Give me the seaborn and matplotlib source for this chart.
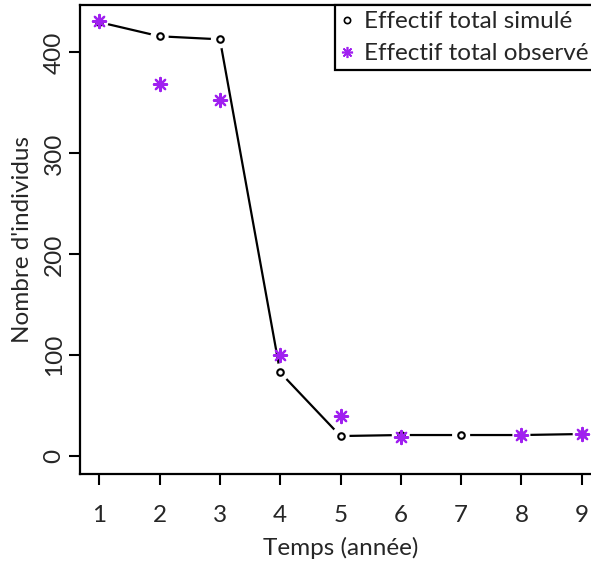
import numpy as np
import pandas as pd
import matplotlib
matplotlib.use("Agg")
import matplotlib.pyplot as plt
import seaborn as sns
from matplotlib.lines import Line2D

years = [1, 2, 3, 4, 5, 6, 7, 8, 9]
simulated = [430, 416, 413, 83, 20, 21, 21, 21, 22]
obs_years = [1, 2, 3, 4, 5, 6, 8, 9]
observed = [431, 369, 353, 100, 40, 19, 21, 22]
yticks = [0, 100, 200, 300, 400]
label_sim = "Effectif total simulé"
label_obs = "Effectif total observé"
xlabel = "Temps (année)"
ylabel = "Nombre d'individus"

sns.set_style("white")
plt.rcParams['font.family'] = ['Lato', 'DejaVu Sans']

W, H = 591, 564
fig = plt.figure(figsize=(W / 100, H / 100), dpi=100)
left, right, top, bottom = 80, 601, 5, 474
ax = fig.add_axes([left / W, 1 - bottom / H, (right - left) / W, (bottom - top) / H])

df_sim = pd.DataFrame({"t": years, "n": simulated})
df_obs = pd.DataFrame({"t": obs_years, "n": observed})

purple = "#A020F0"
FS = 17.5
sns.lineplot(data=df_sim, x="t", y="n", ax=ax, color="black", lw=1.6, zorder=2)
# white halo to imitate type="b" gaps
sns.scatterplot(data=df_sim, x="t", y="n", ax=ax, marker="o", s=170, color="white",
                edgecolor="none", linewidth=0, zorder=3)
sns.scatterplot(data=df_sim, x="t", y="n", ax=ax, marker="o", s=22, facecolor="white",
                edgecolor="black", linewidth=1.5, zorder=4)
sns.scatterplot(data=df_obs, x="t", y="n", ax=ax, marker=(8, 2, 0), s=90, color=purple,
                edgecolor=purple, linewidth=1.6, zorder=5)

ax.set_xlim(0.68, 9.32)
ax.set_ylim(-17.6, 447)
ax.set_xticks(years)
ax.set_yticks(yticks)
ax.set_xticklabels([str(v) for v in years], fontsize=FS)
ax.set_yticklabels([str(v) for v in yticks], fontsize=FS, rotation=90, va="center")
ax.tick_params(axis="both", direction="out", length=8, width=1.5, color="black",
               bottom=True, left=True)
ax.tick_params(axis="x", pad=14)
ax.tick_params(axis="y", pad=3)
for s in ax.spines.values():
    s.set_visible(True)
    s.set_color("black")
    s.set_linewidth(1.6)
ax.set_xlabel(xlabel, fontsize=FS, labelpad=8)
ax.set_ylabel(ylabel, fontsize=FS, labelpad=8)

handles = [
    Line2D([], [], linestyle="none", marker="o", markersize=4.5, markerfacecolor="white",
           markeredgecolor="black", markeredgewidth=1.2),
    Line2D([], [], linestyle="none", marker=(8, 2, 0), markersize=8, color=purple,
           markeredgewidth=1.2),
]
leg = ax.legend(handles, [label_sim, label_obs], loc="upper left",
                bbox_to_anchor=(335 / W, 1 - 5 / H), bbox_transform=fig.transFigure,
                fontsize=FS, frameon=True, fancybox=False, framealpha=1,
                edgecolor="black", borderpad=0.25, borderaxespad=0, handlelength=0.5,
                handletextpad=0.45, labelspacing=0.45)
leg.get_frame().set_linewidth(1.6)

fig.savefig("out.png", dpi=100)
